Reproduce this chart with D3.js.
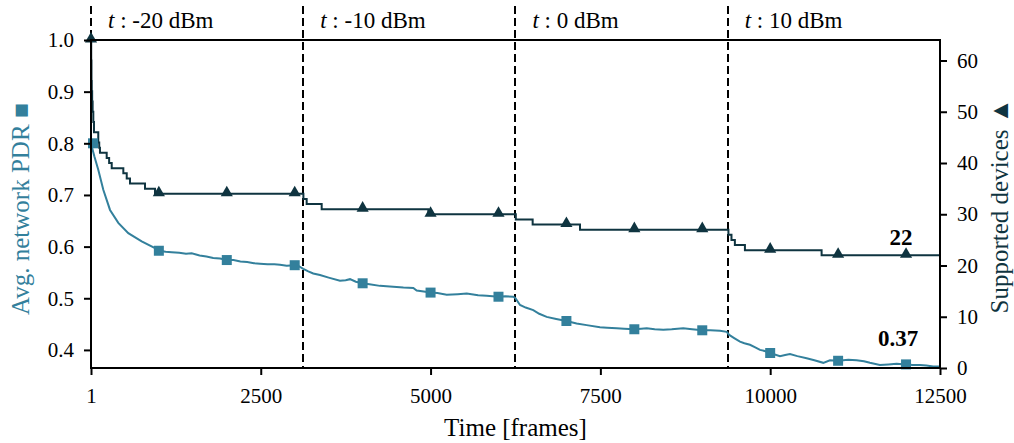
<!DOCTYPE html>
<html>
<head>
<meta charset="utf-8">
<script src="https://cdn.jsdelivr.net/npm/d3@7"></script>
<style>
	html, body {
		margin: 0;
		padding: 0;
		background: #ffffff;
	}

	svg text {
		font-family: "Liberation Serif", "Times New Roman", Times, serif;
		fill: #000000;
	}

	.tick text {
		font-size: 21px;
	}
</style>
</head>
<body>
<div id="chart"></div>
<script>
// Tick labels and the transmission power phases
const frameTicks = [1, 2500, 5000, 7500, 10000, 12500];
const pdrTicks = [0.4, 0.5, 0.6, 0.7, 0.8, 0.9, 1.0];
const deviceTicks = [0, 10, 20, 30, 40, 50, 60];
const phaseStarts = [1, 3125, 6250, 9375];
const phaseLabels = ["-20", "-10", "0", "10"];
const markerFrames = [1, 1000, 2000, 3000, 4000, 5000, 6000, 7000, 8000, 9000, 10000, 11000, 12000];

// Average network PDR
const pdrFrames = [
	1, 20, 50, 108, 182, 281, 403, 550, 747, 943, 1000, 1100, 1189, 1300, 1400, 1483,
	1600, 1700, 1800, 1900, 2000, 2100, 2200, 2300, 2400, 2489, 2600, 2700, 2783, 2882,
	3000, 3060, 3126, 3200, 3273, 3372, 3500, 3666, 3750, 3814, 3900, 4000, 4100, 4255,
	4400, 4600, 4746, 4796, 4900, 5000, 5100, 5238, 5400, 5532, 5700, 5826, 6000, 6100,
	6218, 6250, 6317, 6400, 6512, 6600, 6709, 6850, 7000, 7150, 7298, 7494, 7600, 7740,
	7850, 8000, 8100, 8182, 8300, 8426, 8550, 8720, 8850, 9000, 9120, 9260, 9360, 9397,
	9470, 9555, 9620, 9702, 9780, 9850, 9920, 10000, 10144, 10220, 10292, 10400, 10537,
	10650, 10782, 10880, 11000, 11150, 11272, 11380, 11468, 11615, 11740, 11861, 12000,
	12100, 12204, 12300, 12400, 12500,
];
const pdrValues = [
	0.800, 0.790, 0.775, 0.749, 0.710, 0.671, 0.646, 0.626, 0.610, 0.597, 0.592, 0.590, 0.589, 0.588, 0.586, 0.587,
	0.583, 0.581, 0.578, 0.577, 0.574, 0.574, 0.571, 0.570, 0.568, 0.567, 0.566, 0.566, 0.565, 0.563,
	0.564, 0.562, 0.557, 0.552, 0.548, 0.545, 0.540, 0.534, 0.535, 0.537, 0.532, 0.529, 0.527, 0.524,
	0.523, 0.521, 0.520, 0.515, 0.513, 0.511, 0.510, 0.507, 0.508, 0.509, 0.506, 0.505, 0.503, 0.504,
	0.503, 0.500, 0.487, 0.482, 0.477, 0.470, 0.464, 0.460, 0.456, 0.451, 0.448, 0.444, 0.443, 0.442,
	0.441, 0.440, 0.441, 0.442, 0.440, 0.439, 0.440, 0.442, 0.440, 0.438, 0.438, 0.437, 0.435, 0.429,
	0.423, 0.416, 0.413, 0.410, 0.405, 0.400, 0.398, 0.394, 0.388, 0.390, 0.392, 0.388, 0.384,
	0.380, 0.375, 0.380, 0.379, 0.381, 0.380, 0.378, 0.375, 0.371, 0.372, 0.373, 0.372,
	0.371, 0.371, 0.370, 0.368, 0.368,
];

// Supported devices, a step series: frame where each value starts
const deviceFrames = [
	1, 4, 8, 12, 18, 25, 35, 45, 108, 122, 133, 232, 268, 306, 477, 527, 575, 796, 943,
	3128, 3176, 3397, 4967, 6255, 6503, 7200, 9385, 9430, 9480, 9628, 10757, 12500,
];
const deviceValues = [
	64, 60, 56, 54, 52, 50, 48, 46, 44, 43, 42, 41, 40, 39, 38, 37, 36, 35, 34,
	33, 32, 31, 30, 29, 28, 27, 26, 25, 24, 23, 22, 22,
];

const pdrColor = "#33809c";
const deviceColor = "#0f3440";

const width = 1014;
const height = 443;
const margin = {top: 40, right: 74, bottom: 75, left: 91};

const svg = d3
	.select("#chart")
	.append("svg")
	.attr("width", width)
	.attr("height", height);

const x = d3
	.scaleLinear()
	.domain([1, 12500])
	.range([margin.left, width - margin.right]);

const yLeft = d3
	.scaleLinear()
	.domain([0.365, 1.0])
	.range([height - margin.bottom, margin.top]);

const yRight = d3
	.scaleLinear()
	.domain([0, 64])
	.range([height - margin.bottom, margin.top]);

const pdrData = pdrFrames.map((f, i) => ({frame: f, value: pdrValues[i]}));
const deviceData = deviceFrames.map((f, i) => ({frame: f, value: deviceValues[i]}));
const deviceAt = (frame) => {
	const i = d3.bisector((d) => d.frame).right(deviceData, frame) - 1;
	return deviceData[Math.max(0, i)].value;
};
const pdrAt = (frame) => pdrData.find((d) => d.frame === frame).value;

// Phase separators, drawn past the top of the frame (snapped to whole pixels)
svg
	.append("g")
	.selectAll("line")
	.data(phaseStarts)
	.enter()
	.append("line")
	.attr("x1", (d) => Math.round(x(d)))
	.attr("x2", (d) => Math.round(x(d)))
	.attr("y1", 6)
	.attr("y2", height - margin.bottom)
	.attr("stroke", "#000000")
	.attr("stroke-width", 2)
	.attr("stroke-dasharray", "8,4");

// Phase labels "t : P dBm"
const phaseText = svg
	.append("g")
	.selectAll("text")
	.data(phaseStarts)
	.enter()
	.append("text")
	.attr("x", (d) => x(d) + 17)
	.attr("y", 28)
	.style("font-size", "23px");
phaseText.append("tspan").style("font-style", "italic").text("t");
phaseText.append("tspan").text((d, i) => ` : ${phaseLabels[i]} dBm`);

// PDR line
svg
	.append("path")
	.datum(pdrData)
	.attr("fill", "none")
	.attr("stroke", pdrColor)
	.attr("stroke-width", 2)
	.attr("d", d3.line().x((d) => x(d.frame)).y((d) => yLeft(d.value)));

// Supported devices step line
svg
	.append("path")
	.datum(deviceData)
	.attr("fill", "none")
	.attr("stroke", deviceColor)
	.attr("stroke-width", 2)
	.attr(
		"d",
		d3.line().curve(d3.curveStepAfter).x((d) => x(d.frame)).y((d) => yRight(d.value)),
	);

// Markers
svg
	.append("g")
	.selectAll("path")
	.data(markerFrames)
	.enter()
	.append("path")
	.attr("d", d3.symbol(d3.symbolSquare, 100))
	.attr("fill", pdrColor)
	.attr("transform", (d) => `translate(${x(d) + (d === 1 ? 2 : 0)},${yLeft(pdrAt(d))})`);

svg
	.append("g")
	.selectAll("path")
	.data(markerFrames)
	.enter()
	.append("path")
	.attr("d", d3.symbol(d3.symbolTriangle, 64))
	.attr("fill", deviceColor)
	.attr("transform", (d) => `translate(${x(d)},${yRight(deviceAt(d)) - 1})`);

// Frame
svg
	.append("rect")
	.attr("x", margin.left)
	.attr("y", margin.top)
	.attr("width", width - margin.left - margin.right)
	.attr("height", height - margin.top - margin.bottom)
	.attr("fill", "none")
	.attr("stroke", "#000000")
	.attr("stroke-width", 2);

// Axes
const xAxis = svg
	.append("g")
	.attr("transform", `translate(0,${height - margin.bottom})`)
	.call(d3.axisBottom(x).tickValues(frameTicks).tickFormat(d3.format("d")).tickSize(7).tickPadding(13));

const leftAxis = svg
	.append("g")
	.attr("transform", `translate(${margin.left},0)`)
	.call(d3.axisLeft(yLeft).tickValues(pdrTicks).tickFormat(d3.format(".1f")).tickSize(7).tickPadding(10));

const rightAxis = svg
	.append("g")
	.attr("transform", `translate(${width - margin.right},0)`)
	.call(d3.axisRight(yRight).tickValues(deviceTicks).tickSize(7).tickPadding(10));

[xAxis, leftAxis, rightAxis].forEach((axis) => {
	axis.attr("font-family", null);
	axis.select(".domain").remove();
	axis.selectAll(".tick line").attr("stroke", "#000000").attr("stroke-width", 2);
	axis.selectAll(".tick text").attr("font-family", null).attr("font-size", null);
});

// Axis titles
svg
	.append("text")
	.attr("x", (margin.left + width - margin.right) / 2)
	.attr("y", 436)
	.attr("text-anchor", "middle")
	.style("font-size", "25px")
	.text("Time [frames]");

svg
	.append("text")
	.attr("transform", `translate(29,${(margin.top + height - margin.bottom) / 2 + 5})rotate(-90)`)
	.attr("text-anchor", "middle")
	.style("font-size", "25px")
	.style("fill", pdrColor)
	.text("Avg. network PDR ■");

svg
	.append("text")
	.attr("transform", `translate(1008,${(margin.top + height - margin.bottom) / 2 + 2})rotate(-90)`)
	.attr("text-anchor", "middle")
	.style("font-size", "25px")
	.style("fill", deviceColor)
	.text("Supported devices ▲");

// Final value annotations
svg
	.append("text")
	.attr("x", x(12000) - 5)
	.attr("y", yRight(22) - 10)
	.attr("text-anchor", "middle")
	.style("font-size", "23px")
	.style("font-weight", "bold")
	.text(deviceAt(12500));

svg
	.append("text")
	.attr("x", x(12000) - 8)
	.attr("y", yLeft(0.37) - 19)
	.attr("text-anchor", "middle")
	.style("font-size", "23px")
	.style("font-weight", "bold")
	.text("0.37");
</script>
</body>
</html>
